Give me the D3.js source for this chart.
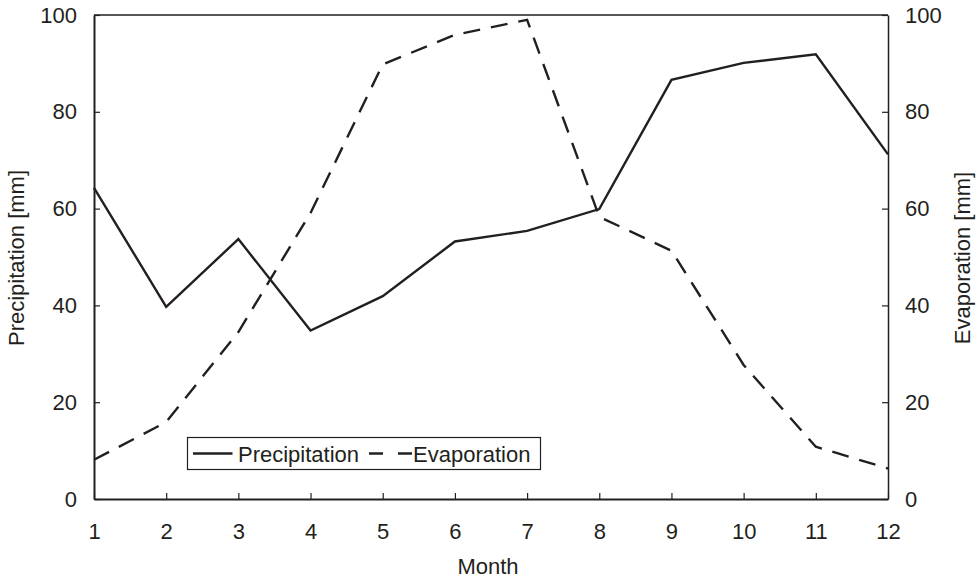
<!DOCTYPE html>
<html>
<head>
<meta charset="utf-8">
<script src="https://cdn.jsdelivr.net/npm/d3@7"></script>
<style>
  html, body { margin: 0; padding: 0; background: #fff; }
  svg text { font-family: "Liberation Sans", Arial, sans-serif; fill: #231f20; }
</style>
</head>
<body>
<svg id="chart" width="979" height="579"></svg>
<script>
// Monthly precipitation and evaporation (mm)
const months = [1, 2, 3, 4, 5, 6, 7, 8, 9, 10, 11, 12];
const precipitation = [64.3, 39.7, 53.7, 34.8, 41.9, 53.2, 55.4, 59.9, 86.6, 90.1, 91.9, 71.2];
const evaporation = [8.1, 15.9, 34.5, 59.1, 89.8, 95.9, 99.0, 58.3, 51.3, 27.7, 10.8, 6.3];
const yTicks = [0, 20, 40, 60, 80, 100];
const seriesNames = ["Precipitation", "Evaporation"];

const ink = "#231f20";
const fontSize = 22;
const svg = d3.select("#chart");

const margin = { left: 94, right: 888, top: 15, bottom: 499 };
const x = d3.scaleLinear().domain([1, 12]).range([margin.left, margin.right]);
const yLeft = d3.scaleLinear().domain([0, 100]).range([margin.bottom, margin.top]);
const yRight = d3.scaleLinear().domain([0, 100]).range([margin.bottom, margin.top]);

// top frame line
svg.append("line")
  .attr("x1", margin.left).attr("x2", margin.right)
  .attr("y1", margin.top).attr("y2", margin.top)
  .attr("stroke", ink).attr("stroke-width", 1.3);

function styleAxis(g, width) {
  g.selectAll(".domain").attr("stroke", ink).attr("stroke-width", width);
  g.selectAll(".tick line").attr("stroke", ink).attr("stroke-width", 1.2);
  g.selectAll(".tick text").attr("font-size", fontSize).style("fill", ink)
    .attr("font-family", "Liberation Sans, Arial, sans-serif");
}

// bottom axis
const gx = svg.append("g")
  .attr("transform", `translate(0,${margin.bottom})`)
  .call(d3.axisBottom(x).tickValues(months).tickFormat(d3.format("d"))
    .tickSizeInner(-6).tickSizeOuter(0).tickPadding(24));
styleAxis(gx, 2.2);

// left axis
const gl = svg.append("g")
  .attr("transform", `translate(${margin.left},0)`)
  .call(d3.axisLeft(yLeft).tickValues(yTicks).tickFormat(d3.format("d"))
    .tickSizeInner(-6).tickSizeOuter(0).tickPadding(17));
styleAxis(gl, 2);

// right axis
const gr = svg.append("g")
  .attr("transform", `translate(${margin.right},0)`)
  .call(d3.axisRight(yRight).tickValues(yTicks).tickFormat(d3.format("d"))
    .tickSizeInner(-6).tickSizeOuter(0).tickPadding(17));
styleAxis(gr, 1.5);

// axis titles
svg.append("text")
  .attr("transform", "translate(24,258) rotate(-90)")
  .attr("text-anchor", "middle").attr("font-size", fontSize)
  .text("Precipitation [mm]");
svg.append("text")
  .attr("transform", "translate(970,258) rotate(-90)")
  .attr("text-anchor", "middle").attr("font-size", fontSize)
  .text("Evaporation [mm]");
svg.append("text")
  .attr("x", 488).attr("y", 574)
  .attr("text-anchor", "middle").attr("font-size", fontSize)
  .text("Month");

// series lines
const lineL = d3.line().x((d, i) => x(months[i])).y(d => yLeft(d));
const lineR = d3.line().x((d, i) => x(months[i])).y(d => yRight(d));

svg.append("path")
  .datum(precipitation)
  .attr("d", lineL)
  .attr("fill", "none").attr("stroke", ink).attr("stroke-width", 2.4)
  .attr("stroke-linejoin", "miter");

svg.append("path")
  .datum(evaporation)
  .attr("d", lineR)
  .attr("fill", "none").attr("stroke", ink).attr("stroke-width", 2.4)
  .attr("stroke-dasharray", "17,11");

// legend
const legend = svg.append("g");
legend.append("rect")
  .attr("x", 187.5).attr("y", 437.5).attr("width", 353).attr("height", 32)
  .attr("fill", "#fff").attr("stroke", ink).attr("stroke-width", 1.2);
legend.append("line")
  .attr("x1", 193).attr("x2", 232.5).attr("y1", 453.5).attr("y2", 453.5)
  .attr("stroke", ink).attr("stroke-width", 2.4);
legend.append("text")
  .attr("x", 238).attr("y", 461.5).attr("font-size", fontSize)
  .text(seriesNames[0]);
legend.append("line")
  .attr("x1", 369).attr("x2", 412).attr("y1", 453.5).attr("y2", 453.5)
  .attr("stroke", ink).attr("stroke-width", 2.4)
  .attr("stroke-dasharray", "14,15");
legend.append("text")
  .attr("x", 413).attr("y", 461.5).attr("font-size", fontSize)
  .text(seriesNames[1]);
</script>
</body>
</html>
